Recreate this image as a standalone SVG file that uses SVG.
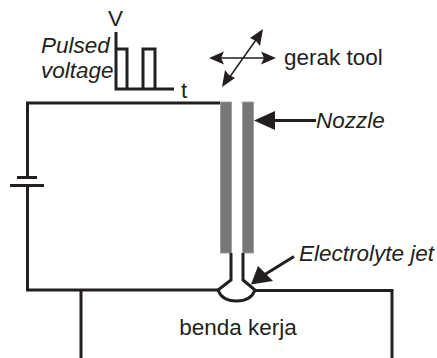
<svg xmlns="http://www.w3.org/2000/svg" width="437" height="358" viewBox="0 0 437 358">
<style>
.w{fill:none;stroke:#231f20;stroke-width:3}
.t{fill:none;stroke:#231f20;stroke-width:1.500}
.h{fill:#231f20}
.n{fill:#77777a;stroke:#999;stroke-width:.8}
text{font-family:"Liberation Sans",Arial,sans-serif;fill:#231f20;font-size:22.500px}
.i{font-style:italic}
</style>
<rect width="437" height="358" fill="#fff"/>
<g id="connectors">
<path class="w" d="M220 103H27.500V177M27.500 185.500V290H218M255 290.500H392V358"/>
<path class="w" d="M81 290V358"/>
<path class="w" d="M17 177.500H37M10 185.500H44"/>
<path class="w" d="M116 32V89H174M116 49H127V89M143 89V49H155V89"/>
<path class="t" d="M216 58H268M229 78L258 37"/>
<path class="h" d="M209 58L224 51.500L221 58L224 64.500ZM276 58L261 51.500L264 58L261 64.500ZM263 29L260 46L256 41L250 38ZM222 87L225 70L229 75L235 78Z"/>
<path class="w" d="M316 120.500H270"/>
<path class="h" d="M254 120.500L275 111V130Z"/>
<path class="w" d="M294 256.500L264 275"/>
<path class="h" d="M251 284.500L258 266L273 281Z"/>
</g>
<g id="nozzle">
<rect class="n" x="220.500" y="102" width="11" height="151"/>
<rect class="n" x="242.500" y="102" width="11" height="151"/>
<path class="w" d="M231 253V280L218 290Q222 301 236.500 301Q251 301 255 290L243 280V253"/>
</g>
<g id="workpiece"><text x="238" y="335" text-anchor="middle">benda kerja</text></g>
<g id="labels">
<text x="108" y="26">V</text>
<text class="i" x="41" y="53">Pulsed</text>
<text class="i" x="41" y="78">voltage</text>
<text x="181" y="98">t</text>
<text x="284" y="65">gerak tool</text>
<text class="i" x="316" y="128">Nozzle</text>
<text class="i" x="299" y="261">Electrolyte jet</text>
</g>
</svg>
